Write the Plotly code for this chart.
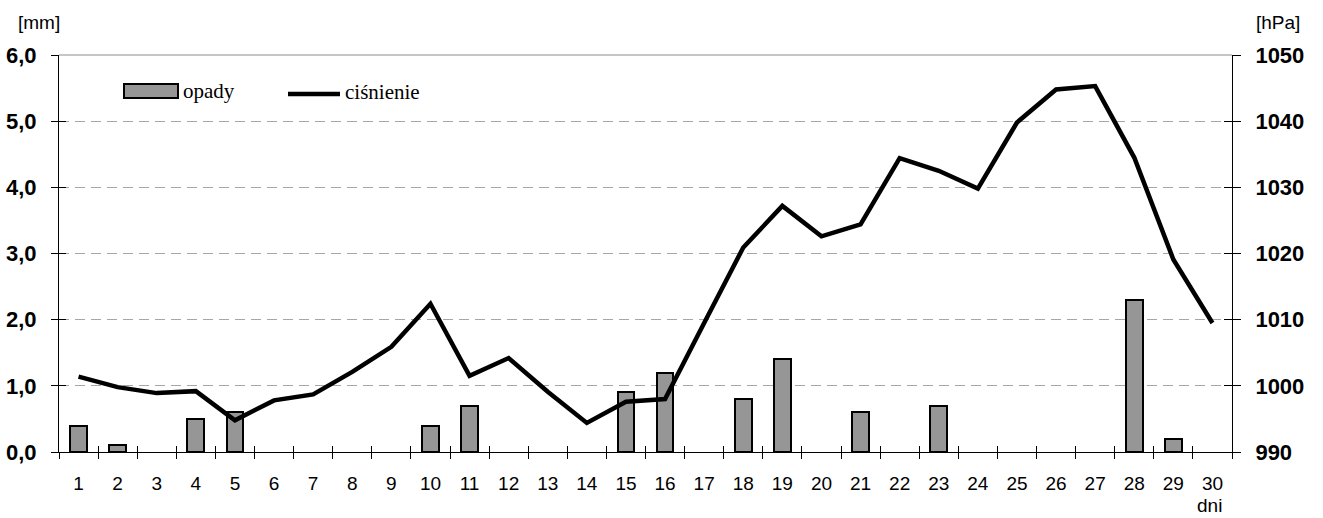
import plotly.graph_objects as go

days = [str(d) for d in range(1, 31)]
opady = [0.4, 0.1, 0, 0.5, 0.6, 0, 0, 0, 0, 0.4,
         0.7, 0, 0, 0, 0.9, 1.2, 0, 0.8, 1.4, 0,
         0.6, 0, 0.7, 0, 0, 0, 0, 2.3, 0.2, 0]
cisnienie = [1001.4, 999.8, 998.9, 999.2, 994.8, 997.8, 998.7, 1002.1, 1005.9, 1012.4,
             1001.5, 1004.2, 999.1, 994.4, 997.6, 998.0, 1009.5, 1020.9, 1027.2, 1022.6,
             1024.4, 1034.4, 1032.5, 1029.8, 1039.8, 1044.8, 1045.3, 1034.5, 1019.1, 1009.5]
mm_ticks = [0, 1, 2, 3, 4, 5, 6]
mm_labels = ["0,0", "1,0", "2,0", "3,0", "4,0", "5,0", "6,0"]
hpa_ticks = [990, 1000, 1010, 1020, 1030, 1040, 1050]
hpa_labels = ["990", "1000", "1010", "1020", "1030", "1040", "1050"]

L, R, T, B = 59, 1232, 55, 452
W, H = R - L, B - T

def px(x):
    return (x - L) / W

def py(y):
    return (B - y) / H

# days without rain draw no bar
opady_bars = [v if v > 0 else None for v in opady]

fig = go.Figure()
fig.add_trace(go.Bar(x=days, y=opady_bars, name="opady", width=0.43,
                     marker=dict(color="#969696", line=dict(color="black", width=2)),
                     yaxis="y", xaxis="x"))
fig.add_trace(go.Scatter(x=days, y=cisnienie, name="ciśnienie", mode="lines",
                         line=dict(color="black", width=4.5), yaxis="y2", xaxis="x"))
# empty traces to activate overlay axes for cross ticks
fig.add_trace(go.Scatter(x=[], y=[], xaxis="x3", yaxis="y3", showlegend=False))
fig.add_trace(go.Scatter(x=[], y=[], xaxis="x", yaxis="y4", showlegend=False))

tick_font = dict(family="Liberation Sans, Arial", size=22, color="black", weight="bold")

fig.update_layout(
    template="none",
    width=1323, height=518,
    margin=dict(l=L, r=1323 - R, t=T, b=518 - B, autoexpand=False),
    plot_bgcolor="white", paper_bgcolor="white",
    showlegend=False, bargap=0,
    xaxis=dict(type="category", categoryorder="array", categoryarray=days,
               range=[-0.5, 29.5], tickson="boundaries", ticks="outside", ticklen=6,
               tickcolor="black", showline=True, linecolor="black", linewidth=1,
               showgrid=False, zeroline=False, ticklabelstandoff=14, automargin=False,
               tickfont=dict(family="Liberation Sans, Arial", size=19, color="black")),
    xaxis3=dict(overlaying="x", anchor="y", range=[0.5, 30.5], automargin=False,
                tickvals=[i + 0.5 for i in range(31)], ticks="inside", ticklen=6,
                tickcolor="black", showticklabels=False, showgrid=False,
                showline=False, zeroline=False),
    yaxis=dict(range=[0, 6], tickvals=mm_ticks, ticktext=mm_labels,
               ticks="outside", ticklen=7, tickcolor="black",
               showline=True, linecolor="black", linewidth=1, automargin=False,
               showgrid=True, gridcolor="#a6a6a6", griddash="10px,6px", gridwidth=1,
               zeroline=False, ticklabelstandoff=10, tickfont=tick_font),
    yaxis2=dict(range=[990, 1050], tickvals=hpa_ticks, ticktext=hpa_labels,
                overlaying="y", side="right", anchor="x", automargin=False,
                ticks="outside", ticklen=8, tickcolor="black",
                showline=True, linecolor="black", linewidth=1,
                showgrid=False, zeroline=False, ticklabelstandoff=10, tickfont=tick_font),
    yaxis3=dict(range=[0, 6], tickvals=mm_ticks, overlaying="y", side="left", anchor="x3",
                ticks="inside", ticklen=7, tickcolor="black", showticklabels=False,
                showgrid=False, showline=False, zeroline=False, automargin=False),
    yaxis4=dict(range=[0, 6], tickvals=mm_ticks, overlaying="y", side="right", anchor="x",
                ticks="inside", ticklen=8, tickcolor="black", showticklabels=False,
                showgrid=False, showline=False, zeroline=False, automargin=False),
)

shapes = [
    # top border line at 6,0
    dict(type="line", xref="paper", yref="paper", x0=0, x1=1, y0=1, y1=1,
         line=dict(color="#8c8c8c", width=1)),
    # legend: bar symbol
    dict(type="rect", xref="paper", yref="paper", x0=px(124), x1=px(178),
         y0=py(98), y1=py(84), fillcolor="#969696", line=dict(color="black", width=2)),
    # legend: line symbol
    dict(type="line", xref="paper", yref="paper", x0=px(288), x1=px(340),
         y0=py(94), y1=py(94), line=dict(color="black", width=4.5)),
]
fig.update_layout(shapes=shapes)

serif = dict(family="Liberation Serif, Times New Roman", size=21, color="black")
sans = dict(family="Liberation Sans, Arial", size=19, color="black")
annotations = [
    dict(text="opady", x=px(181), y=py(91), xref="paper", yref="paper",
         xanchor="left", yanchor="middle", showarrow=False, font=serif),
    dict(text="ciśnienie", x=px(343), y=py(92), xref="paper", yref="paper",
         xanchor="left", yanchor="middle", showarrow=False, font=serif),
    dict(text="[mm]", x=px(39), y=py(22), xref="paper", yref="paper",
         xanchor="center", yanchor="middle", showarrow=False, font=sans),
    dict(text="[hPa]", x=px(1278), y=py(22), xref="paper", yref="paper",
         xanchor="center", yanchor="middle", showarrow=False, font=sans),
    dict(text="dni", x=px(1209), y=py(505), xref="paper", yref="paper",
         xanchor="center", yanchor="middle", showarrow=False, font=sans),
]
fig.update_layout(annotations=annotations)

fig.write_html("out.html")
